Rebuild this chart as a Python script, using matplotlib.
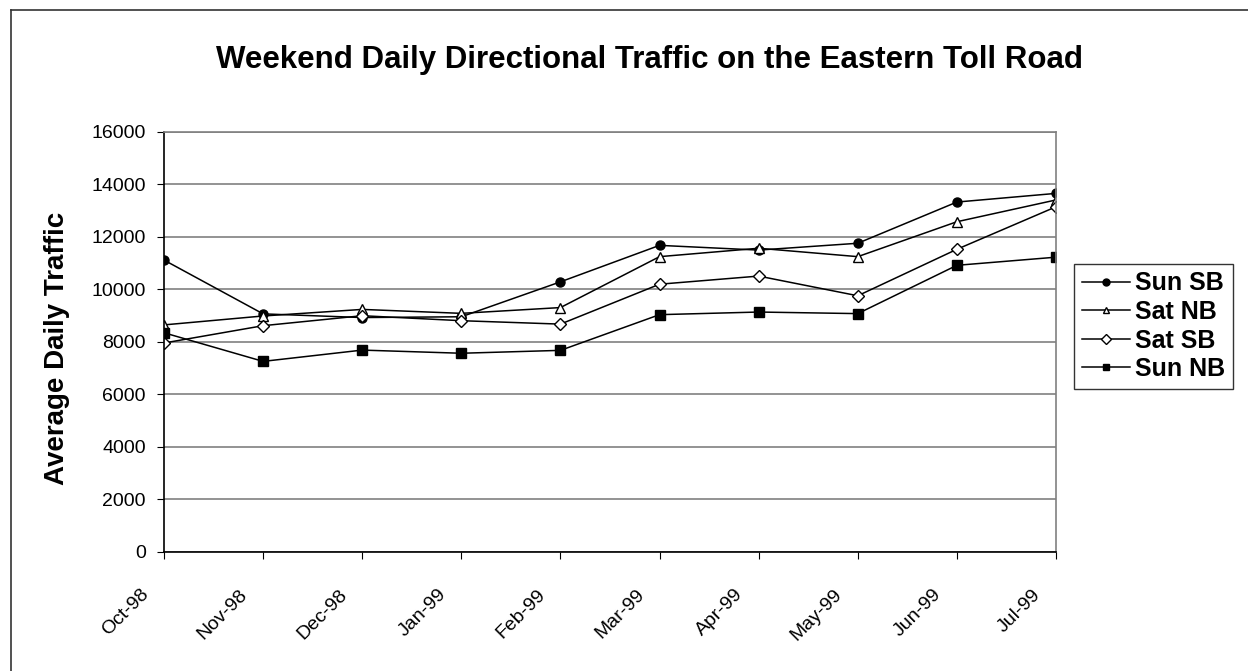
import matplotlib.pyplot as plt
import matplotlib.transforms as mtransforms
from matplotlib.lines import Line2D

months = ['Oct-98', 'Nov-98', 'Dec-98', 'Jan-99', 'Feb-99',
          'Mar-99', 'Apr-99', 'May-99', 'Jun-99', 'Jul-99']

sun_sb = [11110, 9060, 8920, 8950, 10280, 11670, 11490, 11750, 13320, 13650]
sat_nb = [8640, 8980, 9230, 9080, 9300, 11240, 11560, 11240, 12570, 13400]
sat_sb = [7950, 8610, 8990, 8800, 8670, 10190, 10500, 9750, 11520, 13140]
sun_nb = [8340, 7250, 7680, 7560, 7670, 9030, 9130, 9070, 10910, 11220]

plt.rcParams['font.family'] = ['Liberation Sans', 'DejaVu Sans']

W, H = 1248, 671
fig = plt.figure(figsize=(W / 100, H / 100), dpi=100)

# chart-area border (only its left and top edges fall inside the picture)
fig.add_artist(Line2D([11 / W, 11 / W], [0, 1 - 10 / H], color='#333333',
                      lw=1.2, transform=fig.transFigure))
fig.add_artist(Line2D([11 / W, 1], [1 - 10 / H, 1 - 10 / H], color='#333333',
                      lw=1.2, transform=fig.transFigure))

ax = fig.add_axes([164 / W, 1 - 551.7 / H, 892 / W, 420 / H])
x = range(len(months))

ax.plot(x, sun_sb, color='black', lw=1.1, marker='o', ms=6.5,
        mfc='black', mec='black', label='Sun SB')
ax.plot(x, sat_nb, color='black', lw=1.1, marker='^', ms=7.5,
        mfc='white', mec='black', label='Sat NB')
ax.plot(x, sat_sb, color='black', lw=1.1, marker='D', ms=6,
        mfc='white', mec='black', label='Sat SB')
ax.plot(x, sun_nb, color='black', lw=1.1, marker='s', ms=6.5,
        mfc='black', mec='black', label='Sun NB')

ax.set_xlim(0, len(months) - 1)
ax.set_ylim(0, 16000)
ax.set_yticks(range(0, 16001, 2000))
ax.set_xticks(list(x))
ax.set_xticklabels(months, rotation=45, ha='right', va='center',
                   rotation_mode='anchor')
ax.tick_params(axis='both', labelsize=14, direction='out', length=5,
               color='black')
ax.tick_params(axis='y', pad=8)
ax.tick_params(axis='x', pad=24)
shift = mtransforms.ScaledTranslation(-18 / 100, 0, fig.dpi_scale_trans)
for lab in ax.get_xticklabels():
    lab.set_transform(lab.get_transform() + shift)

ax.yaxis.grid(True, color='#808080', linewidth=1.2)
ax.set_axisbelow(True)

for side in ['top', 'right']:
    ax.spines[side].set_color('#808080')
    ax.spines[side].set_linewidth(1.2)
for side in ['left', 'bottom']:
    ax.spines[side].set_color('black')
    ax.spines[side].set_linewidth(1.2)

ax.set_ylabel('Average Daily Traffic', fontsize=20, fontweight='bold')
ax.yaxis.set_label_coords(70 / W, 1 - 348 / H, transform=fig.transFigure)

fig.text(650 / W, 1 - 60 / H,
         'Weekend Daily Directional Traffic on the Eastern Toll Road',
         ha='center', va='center', fontsize=22.5, fontweight='bold')

leg = ax.legend(loc='upper left', bbox_to_anchor=(1074 / W, 1 - 264 / H),
                bbox_transform=fig.transFigure, borderaxespad=0,
                frameon=True, fancybox=False, edgecolor='black',
                prop={'size': 18, 'weight': 'bold'}, handlelength=1.95,
                handletextpad=0.2, borderpad=0.3, labelspacing=0.18)
leg.get_frame().set_linewidth(1.0)
for h in leg.legend_handles:
    h.set_markersize(5)

fig.savefig('out.png', dpi=100)
